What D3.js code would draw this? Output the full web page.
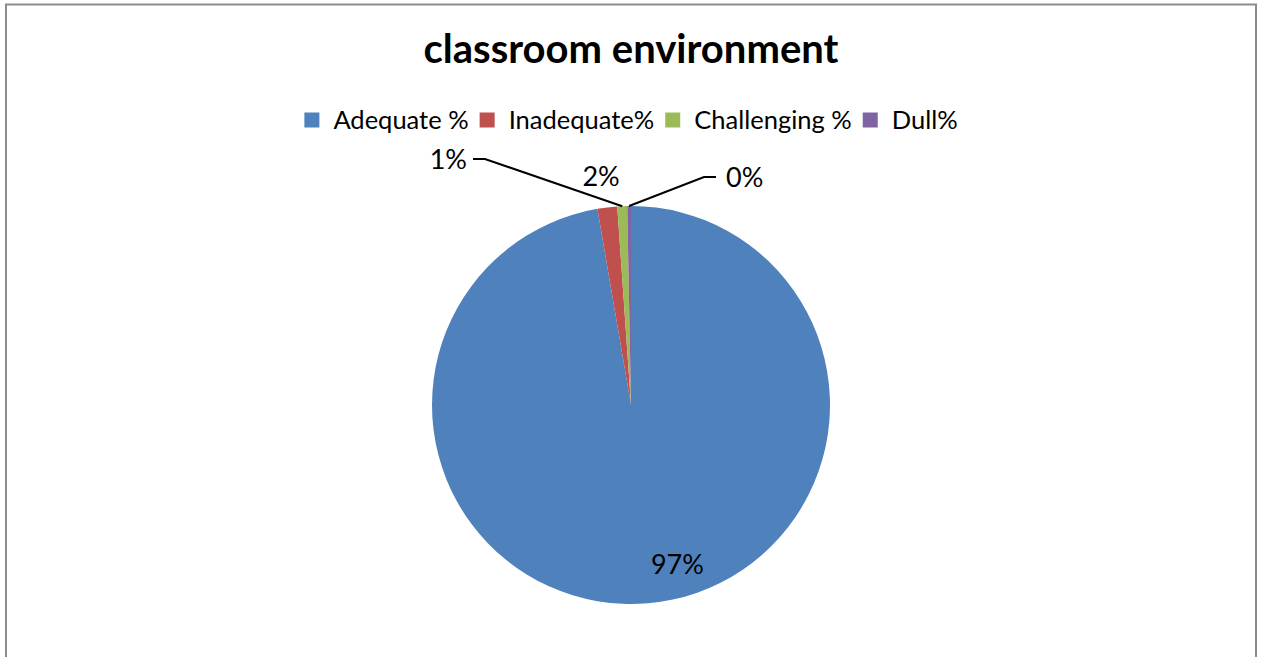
<!DOCTYPE html>
<html><head><meta charset="utf-8">
<script src="https://cdn.jsdelivr.net/npm/d3@7"></script>
<style>html,body{margin:0;padding:0;background:#fff;}svg{display:block;}</style>
</head><body>
<svg id="chart" width="1264" height="657"></svg>
<script>
const categories = ["Adequate %", "Inadequate%", "Challenging %", "Dull%"];
const values = [97.3, 1.6, 0.8, 0.3];
const labels = ["97%", "2%", "1%", "0%"];
const colors = ["#4F81BD", "#C0504D", "#9BBB59", "#8064A2"];
const title = "classroom environment";

const svg = d3.select("#chart");
const font = "Lato, 'Open Sans', sans-serif";

svg.append("rect").attr("x", 6).attr("y", 4.5).attr("width", 1250).attr("height", 660)
  .attr("fill", "#fff").attr("stroke", "#8c8c8c").attr("stroke-width", 2);

svg.append("text").attr("x", 631).attr("y", 63).attr("text-anchor", "middle")
  .attr("font-family", font).attr("font-weight", "bold").attr("font-size", 40).attr("fill", "#000")
  .text(title);

// legend
const legFont = 25.5;
const lg = svg.append("g");
const items = lg.selectAll("g").data(categories).join("g");
items.append("rect").attr("width", 15).attr("height", 15).attr("y", 112.5)
  .attr("fill", (d, i) => colors[i]);
items.append("text").attr("y", 129).attr("font-family", font).attr("font-size", legFont)
  .attr("fill", "#000").text(d => d);
let x = 0;
items.each(function () {
  const g = d3.select(this);
  g.select("rect").attr("x", x);
  g.select("text").attr("x", x + 29);
  const w = g.select("text").node().getComputedTextLength();
  x += 29 + w + 11;
});
const totalW = x - 11;
lg.attr("transform", `translate(${631 - totalW / 2},0)`);

// pie
const cx = 631, cy = 405, r = 199;
const pie = d3.pie().sort(null).value(d => d)(values);
const arc = d3.arc().innerRadius(0).outerRadius(r);
const pg = svg.append("g").attr("transform", `translate(${cx},${cy})`);
pg.selectAll("path").data(pie).join("path")
  .attr("d", arc).attr("fill", (d, i) => colors[i]);

// labels
const lblFont = 27;
function pt(a, rr) { return [cx + rr * Math.sin(a), cy - rr * Math.cos(a)]; }
const mid = d => (d.startAngle + d.endAngle) / 2;
// 97% inside
{
  const d = pie[0];
  const p = pt(mid(d) - 0.2, r * 0.83);
  svg.append("text").attr("x", p[0]).attr("y", p[1] + 10).attr("text-anchor", "middle")
    .attr("font-family", font).attr("font-size", lblFont).attr("fill", "#000").text(labels[0]);
}
// 2% just outside
{
  const d = pie[1];
  const p = pt(mid(d), r + 27);
  svg.append("text").attr("x", p[0] - 3).attr("y", p[1] + 5).attr("text-anchor", "middle")
    .attr("font-family", font).attr("font-size", lblFont).attr("fill", "#000").text(labels[1]);
}
// 1% with leader to left
{
  const d = pie[2];
  const e = pt(mid(d), r);
  const lx = 473, ly = 159;
  svg.append("polyline").attr("points", `${e[0]},${e[1]} ${lx + 12},${ly} ${lx},${ly}`)
    .attr("fill", "none").attr("stroke", "#000").attr("stroke-width", 2);
  svg.append("text").attr("x", lx - 6).attr("y", ly + 10).attr("text-anchor", "end")
    .attr("font-family", font).attr("font-size", lblFont).attr("fill", "#000").text(labels[2]);
}
// 0% leader to right
{
  const d = pie[3];
  const e = pt(mid(d), r);
  const lx = 716, ly = 177;
  svg.append("polyline").attr("points", `${e[0]},${e[1]} ${lx - 12},${ly} ${lx},${ly}`)
    .attr("fill", "none").attr("stroke", "#000").attr("stroke-width", 2);
  svg.append("text").attr("x", lx + 10).attr("y", ly + 10).attr("text-anchor", "start")
    .attr("font-family", font).attr("font-size", lblFont).attr("fill", "#000").text(labels[3]);
}
</script>
</body></html>
